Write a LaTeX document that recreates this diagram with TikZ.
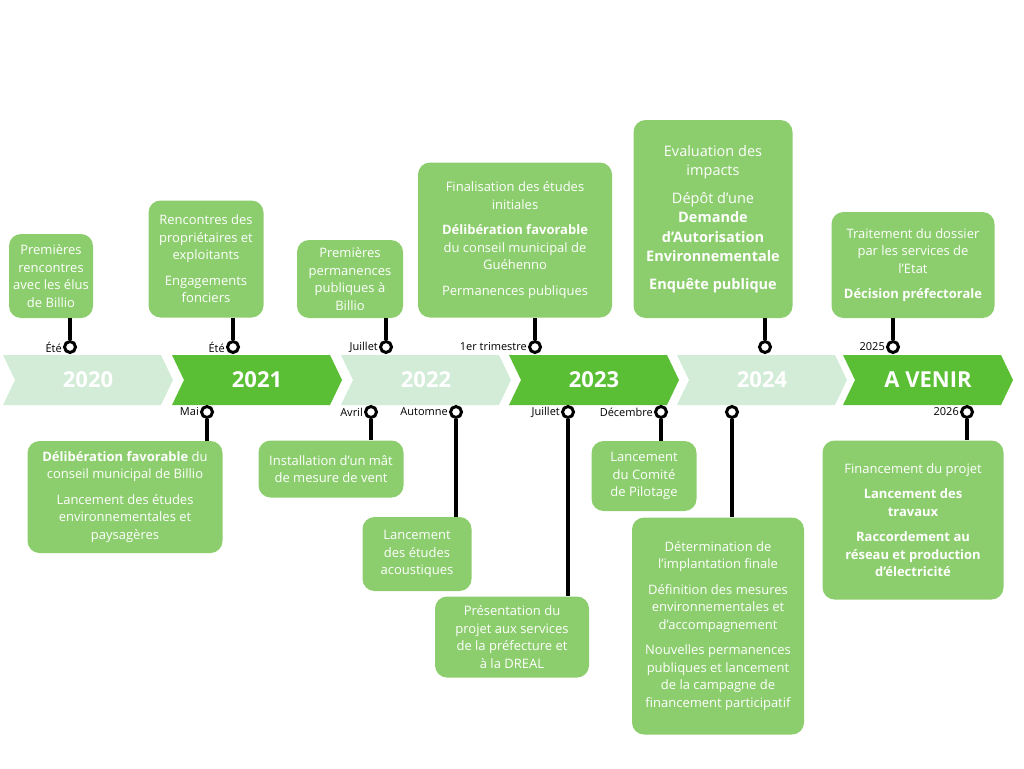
\documentclass[tikz,border=0pt]{standalone}
\usepackage{fontspec}
\setmainfont{Open Sans}
\definecolor{pale}{HTML}{D2ECD7}
\definecolor{dark}{HTML}{5BBF35}
\definecolor{boxgreen}{HTML}{8CCE6D}
\tikzset{
  chev/.style={fill=#1, draw=none},
  year/.style={text=white, font=\fontsize{22}{24}\selectfont\bfseries},
  info/.style={fill=boxgreen, rounded corners=12pt, text=white, align=center,
    font=\fontsize{13}{17.5}\selectfont, inner sep=3pt},
  pin/.style={circle, draw=black, line width=3pt, fill=white, minimum size=11pt, inner sep=0pt},
  stem/.style={line width=3.5pt},
  when/.style={font=\fontsize{11}{12}\selectfont, inner sep=1pt}
}
\newcommand{\chevron}[4]{% x, colour, label, name
  \fill[chev=#2] (#1,355) -- ++(158,0) -- ++(12,25) -- ++(-12,25) -- ++(-158,0) -- ++(12,-25) -- cycle;
  \node[year] (#4) at (#1+85,380) {#3};}
\begin{document}
\begin{tikzpicture}[x=1pt,y=-1pt]
\useasboundingbox (0,0) rectangle (1024,768);
% timeline band
\chevron{3}{pale}{2020}{y20}
\chevron{172}{dark}{2021}{y21}
\chevron{341}{pale}{2022}{y22}
\chevron{509}{dark}{2023}{y23}
\chevron{677}{pale}{2024}{y24}
\chevron{843}{dark}{A VENIR}{y25}
% boxes above
\node[info, minimum width=84pt, minimum height=84pt] (b1) at (51,276) {Premières\\rencontres\\avec les élus\\de Billio};
\node[info, minimum width=115pt, minimum height=117pt] (b2) at (206,259) {Rencontres des\\propriétaires et\\exploitants\\[8pt]Engagements\\fonciers};
\node[info, minimum width=106pt, minimum height=78pt] (b3) at (350,279) {Premières\\permanences\\publiques à\\Billio};
\node[info, minimum width=194pt, minimum height=155pt] (b4) at (515,240) {Finalisation des études\\initiales\\[8pt]\textbf{Délibération favorable}\\du conseil municipal de\\Guéhenno\\[8pt]Permanences publiques};
\node[info, minimum width=159pt, minimum height=198pt, font=\fontsize{14.5}{19.5}\selectfont] (b5) at (713,219) {Evaluation des\\impacts\\[8pt]Dépôt d’une\\\textbf{Demande}\\\textbf{d’Autorisation}\\\textbf{Environnementale}\\[8pt]\textbf{Enquête publique}};
\node[info, minimum width=163pt, minimum height=106pt] (b6) at (913,265) {Traitement du dossier\\par les services de\\l’Etat\\[8pt]\textbf{Décision préfectorale}};
% boxes below
\node[info, minimum width=195pt, minimum height=112pt] (c1) at (125,497) {\textbf{Délibération favorable} du\\conseil municipal de Billio\\[8pt]Lancement des études\\environnementales  et\\paysagères};
\node[info, minimum width=145pt, minimum height=57pt] (c2) at (331,469) {Installation d’un mât\\de mesure de vent};
\node[info, minimum width=109pt, minimum height=74pt] (c3) at (417,554) {Lancement\\des études\\acoustiques};
\node[info, minimum width=154pt, minimum height=81pt] (c4) at (512,637) {Présentation du\\projet aux services\\de la préfecture et\\à la DREAL};
\node[info, minimum width=105pt, minimum height=70pt] (c5) at (644,476) {Lancement\\du Comité\\de Pilotage};
\node[info, minimum width=172pt, minimum height=217pt] (c6) at (718,626) {Détermination de\\l’implantation finale\\[8pt]Définition des mesures\\environnementales et\\d’accompagnement\\[8pt]Nouvelles permanences\\publiques et lancement\\de la campagne de\\financement participatif};
\node[info, minimum width=181pt, minimum height=159pt] (c7) at (913,520) {Financement du projet\\[8pt]\textbf{Lancement des}\\\textbf{travaux}\\[8pt]\textbf{Raccordement au}\\\textbf{réseau et production}\\\textbf{d’électricité}};
% pins above
\foreach \x/\bx/\lab [count=\i] in {70/b1/Été, 233/b2/Été, 386/b3/Juillet, 535/b4/1er trimestre, 765/b5/, 893/b6/2025}{
  \node[pin] (p\i) at (\x,347) {};
  \draw[stem] (p\i.north) -- (p\i.north |- \bx.south);
  \node[when, anchor=east] at (p\i.west) {\lab};
}
% pins below
\foreach \x/\bx/\lab [count=\i] in {207/c1/Mai, 371/c2/Avril, 456/c3/Automne, 568/c4/Juillet, 661/c5/Décembre, 732/c6/, 967/c7/2026}{
  \node[pin] (q\i) at (\x,412) {};
  \draw[stem] (q\i.south) -- (q\i.south |- \bx.north);
  \node[when, anchor=east] at (q\i.west) {\lab};
}
\end{tikzpicture}
\end{document}
